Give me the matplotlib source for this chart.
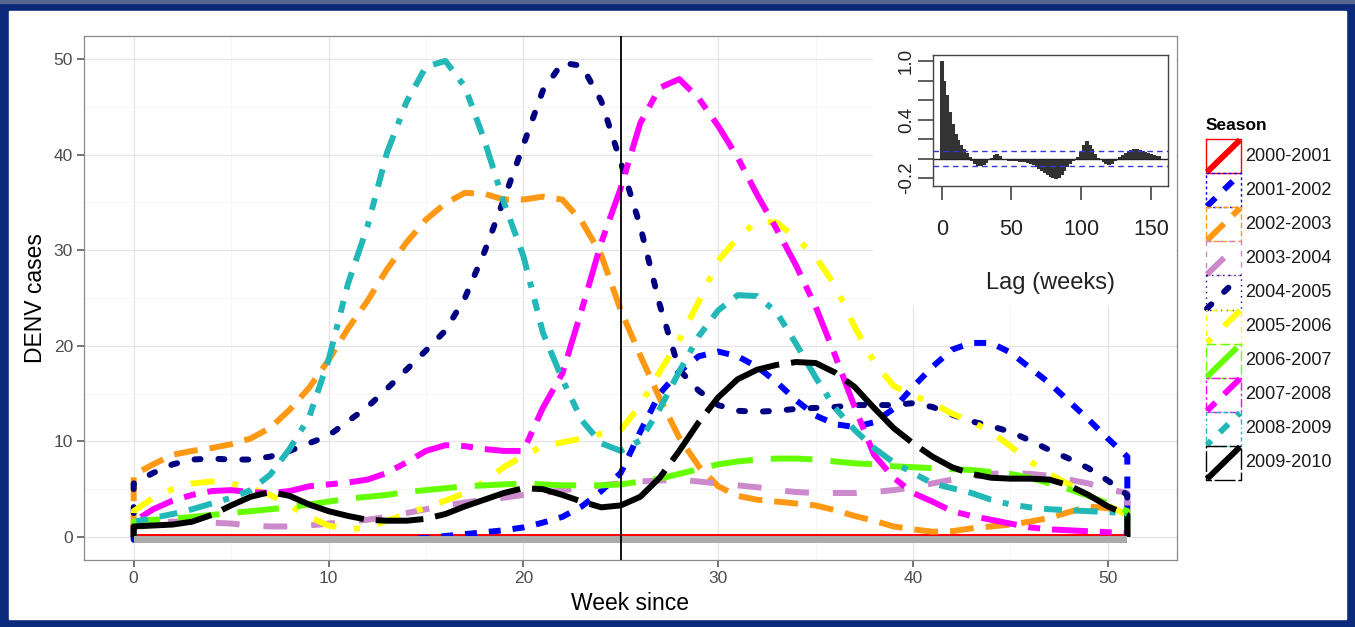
import matplotlib
matplotlib.use("Agg")
import matplotlib.pyplot as plt
from matplotlib.patches import Rectangle

plt.rcParams["font.family"] = ["Liberation Sans", "DejaVu Sans"]

W, H = 1355, 627

weeks = list(range(52))
seasons = ["2000-2001", "2001-2002", "2002-2003", "2003-2004", "2004-2005",
           "2005-2006", "2006-2007", "2007-2008", "2008-2009", "2009-2010"]

s2000 = [0.0, 0.0, 0.0, 0.0, 0.0, 0.0, 0.0, 0.0, 0.0, 0.0, 0.0, 0.0, 0.0,
         0.0, 0.0, 0.0, 0.0, 0.0, 0.0, 0.0, 0.0, 0.0, 0.0, 0.0, 0.0, 0.0,
         0.0, 0.0, 0.0, 0.0, 0.0, 0.0, 0.0, 0.0, 0.0, 0.0, 0.0, 0.0, 0.0,
         0.0, 0.0, 0.0, 0.0, 0.0, 0.0, 0.0, 0.0, 0.0, 0.0, 0.0, 0.0, 0.0]
s2001 = [-0.3, -0.3, -0.3, -0.3, -0.3, -0.3, -0.3, -0.3, -0.3, -0.3, -0.3, -0.3, -0.3,
         -0.3, -0.2, -0.1, 0.1, 0.3, 0.5, 0.7, 1.0, 1.5, 2.1, 3.2, 4.8, 6.7,
         11.0, 15.0, 17.3, 18.9, 19.4, 18.9, 17.8, 16.2, 14.3, 12.7, 11.8, 11.5, 12.0,
         13.4, 15.7, 17.8, 19.6, 20.3, 20.3, 19.3, 17.7, 16.1, 14.2, 12.3, 10.3, 8.4]
s2002 = [6.5, 7.6, 8.6, 9.0, 9.3, 9.7, 10.3, 11.4, 13.3, 15.6, 18.5, 21.8, 24.7,
         28.0, 30.8, 33.2, 34.9, 36.0, 35.9, 35.3, 35.3, 35.6, 35.3, 33.0, 29.5, 23.7,
         19.0, 14.5, 10.4, 7.4, 5.3, 4.3, 3.9, 3.7, 3.5, 3.3, 2.8, 2.2, 1.7,
         1.1, 0.8, 0.55, 0.6, 0.9, 1.1, 1.3, 1.6, 2.0, 2.6, 3.2, 3.0, 2.7]
s2003 = [1.4, 1.5, 1.6, 1.6, 1.5, 1.4, 1.2, 1.1, 1.1, 1.2, 1.4, 1.6, 1.8,
         2.1, 2.5, 2.9, 3.3, 3.6, 3.9, 4.1, 4.4, 4.6, 4.9, 5.1, 5.4, 5.6,
         5.8, 5.9, 6.0, 5.8, 5.6, 5.4, 5.2, 4.9, 4.7, 4.6, 4.6, 4.6, 4.7,
         4.9, 5.2, 5.6, 6.0, 6.3, 6.6, 6.7, 6.6, 6.4, 6.0, 5.6, 5.0, 4.6]
s2004 = [5.6, 6.7, 7.6, 8.1, 8.2, 8.1, 8.1, 8.4, 9.0, 9.8, 10.6, 12.1, 13.6,
         15.5, 17.5, 19.5, 21.6, 25.0, 29.8, 35.3, 41.0, 46.7, 49.6, 49.3, 45.6, 39.2,
         32.5, 24.3, 17.5, 15.3, 13.8, 13.2, 13.1, 13.2, 13.4, 13.5, 13.6, 13.8, 13.8,
         13.8, 14.0, 13.6, 12.8, 12.1, 11.6, 11.0, 10.1, 9.1, 8.2, 7.2, 5.9, 4.4]
s2005 = [2.7, 4.1, 5.0, 5.6, 5.8, 5.6, 5.1, 4.4, 3.3, 2.1, 1.2, 0.8, 1.0,
         1.7, 2.4, 3.1, 3.8, 4.6, 5.8, 7.3, 8.5, 9.5, 9.9, 10.3, 10.8, 11.2,
         13.8, 17.3, 20.6, 24.6, 28.9, 31.3, 33.0, 32.9, 31.3, 29.3, 26.3, 22.0, 18.3,
         15.8, 14.8, 14.0, 12.9, 12.1, 11.0, 9.5, 7.9, 6.6, 5.5, 4.4, 3.3, 2.3]
s2006 = [1.6, 1.8, 1.9, 2.1, 2.3, 2.5, 2.7, 2.9, 3.1, 3.4, 3.7, 4.0, 4.2,
         4.4, 4.7, 4.9, 5.1, 5.3, 5.4, 5.5, 5.6, 5.5, 5.4, 5.4, 5.4, 5.5,
         5.8, 6.1, 6.6, 7.1, 7.6, 7.9, 8.1, 8.2, 8.2, 8.1, 7.9, 7.7, 7.6,
         7.4, 7.3, 7.2, 7.1, 7.0, 6.8, 6.6, 6.2, 5.6, 5.0, 4.3, 3.5, 2.7]
s2007 = [1.6, 2.9, 3.8, 4.4, 4.8, 4.9, 4.7, 4.6, 4.8, 5.3, 5.5, 5.7, 6.0,
         6.7, 7.8, 9.0, 9.6, 9.5, 9.2, 9.0, 9.0, 13.5, 17.1, 23.8, 30.8, 36.5,
         43.3, 47.0, 47.9, 45.9, 43.0, 39.7, 35.8, 32.2, 28.4, 24.1, 19.0, 13.6, 8.6,
         6.2, 4.6, 3.7, 2.7, 2.2, 1.8, 1.4, 1.0, 0.8, 0.7, 0.6, 0.5, 0.4]
s2008 = [1.6, 2.0, 2.4, 2.9, 3.5, 4.1, 4.9, 6.5, 9.2, 12.5, 18.5, 26.5, 32.5,
         40.2, 45.5, 49.2, 49.8, 47.1, 41.5, 35.0, 29.4, 21.4, 16.5, 12.2, 9.8, 9.0,
         10.1, 13.4, 17.3, 21.0, 23.7, 25.3, 25.2, 23.5, 20.2, 16.7, 13.5, 11.2, 9.3,
         7.8, 6.7, 5.6, 5.1, 4.6, 3.9, 3.4, 3.1, 2.9, 2.8, 2.7, 2.6, 2.5]
s2009 = [1.1, 1.2, 1.3, 1.6, 2.3, 3.3, 4.2, 4.7, 4.3, 3.4, 2.7, 2.2, 1.8,
         1.7, 1.7, 1.9, 2.4, 3.2, 3.9, 4.6, 5.1, 5.0, 4.4, 3.7, 3.1, 3.3,
         4.2, 6.2, 9.0, 12.0, 14.6, 16.5, 17.5, 18.0, 18.3, 18.2, 17.2, 15.7, 13.5,
         11.4, 9.8, 8.4, 7.3, 6.6, 6.2, 6.1, 6.1, 6.0, 5.4, 4.4, 3.2, 2.3]
series = [s2000, s2001, s2002, s2003, s2004, s2005, s2006, s2007, s2008, s2009]

colors = ["#FF0000", "#0000FF", "#FF9914", "#CC8ACC", "#000080",
          "#FFFF00", "#66FF00", "#FF00FF", "#22B8B8", "#000000"]
# ggplot default linetype sequence
dashes = [None, (2, 2), (4, 2), (4, 4), (1, 3), (1, 3, 4, 3), (7, 3),
          (2, 2, 6, 2), (1, 2, 2, 2, 3, 2, 4, 2), (15, 2, 8, 2)]
caps = ["butt", "butt", "butt", "butt", "round", "butt", "butt", "butt", "butt", "butt"]

acf_lags = list(range(0, 157, 2))
acf_vals = [1.00, 0.80, 0.65, 0.48, 0.35, 0.25, 0.19, 0.14, 0.10, 0.06,
            0.02, -0.03, -0.06, -0.08, -0.08, -0.07, -0.05, -0.02, 0.01, 0.04,
            0.05, 0.03, 0.00, -0.02, -0.03, -0.03, -0.03, -0.03, -0.04, -0.04,
            -0.04, -0.05, -0.06, -0.07, -0.09, -0.11, -0.13, -0.15, -0.17, -0.19,
            -0.20, -0.21, -0.20, -0.17, -0.13, -0.09, -0.06, -0.03, -0.01, 0.02,
            0.07, 0.14, 0.18, 0.14, 0.10, 0.05, 0.01, -0.02, -0.04, -0.06,
            -0.07, -0.06, -0.03, 0.00, 0.02, 0.04, 0.06, 0.08, 0.09, 0.10,
            0.10, 0.09, 0.08, 0.07, 0.06, 0.05, 0.04, 0.03, 0.03]
acf_ci = 0.08


def fx(x):
    return x / W


def fy(y):
    return 1 - y / H


fig = plt.figure(figsize=(W / 100, H / 100), dpi=100)

# slide background and legend live in pixel coordinates
bg = fig.add_axes([0, 0, 1, 1], zorder=-1)
bg.set_xlim(0, W)
bg.set_ylim(H, 0)
bg.axis("off")
bg.add_patch(Rectangle((0, 0), W, H, color="#0c2a7c"))
bg.add_patch(Rectangle((0, 0), W, 3, color="#56668f"))
bg.add_patch(Rectangle((9, 11), 1337, 608, color="white"))

ax = fig.add_axes([fx(84), fy(560), (1177 - 84) / W, (560 - 36) / H], zorder=1)
ax.set_xlim(-2.55, 53.55)
ax.set_ylim(-2.41, 52.41)
ax.set_xticks([0, 10, 20, 30, 40, 50])
ax.set_xticks([5, 15, 25, 35, 45], minor=True)
ax.set_yticks([0, 10, 20, 30, 40, 50])
ax.set_yticks([5, 15, 25, 35, 45], minor=True)
ax.grid(which="major", color="#E5E5E5", lw=0.9)
ax.grid(which="minor", color="#F4F4F4", lw=0.6)
ax.set_axisbelow(True)
ax.tick_params(which="major", length=5, width=1.1, color="#4D4D4D",
               labelsize=12.5, labelcolor="#4D4D4D", pad=3)
ax.tick_params(which="minor", length=0)
for sp in ax.spines.values():
    sp.set_color("#8A8A8A")
    sp.set_linewidth(0.9)

for name, vals, col, dsh, cap in zip(seasons, series, colors, dashes, caps):
    xs = [weeks[0]] + weeks + [weeks[-1]]
    ys = [0.0] + vals + [0.0]
    line, = ax.plot(xs, ys, color=col, lw=4.3, solid_capstyle="butt",
                    dash_capstyle=cap, solid_joinstyle="round",
                    dash_joinstyle="round", zorder=2)
    if dsh is not None:
        line.set_dashes(dsh)

ax.fill_between(weeks, -0.65, 0.05, color="#ABABAB", lw=0, zorder=3)
ax.axvline(25, color="black", lw=1.3, zorder=4)

fig.text(fx(35), fy(298), "DENV cases", rotation=90, ha="center", va="center",
         fontsize=16.5)
fig.text(fx(630), fy(604), "Week since", ha="center", va="center", fontsize=16.5)

# white box behind the inset
fig.add_artist(Rectangle((fx(873), fy(305)), (1175 - 873) / W, (305 - 38) / H,
                         transform=fig.transFigure, color="white", zorder=2))

ins = fig.add_axes([fx(933), fy(186), 235 / W, 131 / H], zorder=3)
ins.vlines(acf_lags, 0, acf_vals, color="#333333", lw=2.9)
ins.axhline(0, color="#222222", lw=1.0)
ins.axhline(acf_ci, color="#3535E0", lw=1.0, ls=(0, (4, 3)))
ins.axhline(-acf_ci, color="#3535E0", lw=1.0, ls=(0, (4, 3)))
ins.set_xlim(-6.24, 162.24)
ins.set_ylim(-0.282, 1.062)
ins.set_xticks([0, 50, 100, 150])
ins.set_yticks([-0.2, 0.0, 0.2, 0.4, 0.6, 0.8, 1.0])
ins.set_yticklabels(["-0.2", "", "", "0.4", "", "", "1.0"], rotation=90, va="center")
ins.tick_params(axis="x", length=10, width=1.1, color="#333333", labelsize=15.5,
                labelcolor="#222222", pad=14)
ins.tick_params(axis="y", length=11, width=1.1, color="#333333", labelsize=13.5,
                labelcolor="#222222", pad=2)
for sp in ins.spines.values():
    sp.set_color("#444444")
    sp.set_linewidth(1.0)
fig.text(fx(1050), fy(283), "Lag (weeks)", ha="center", va="center", fontsize=17,
         color="#222222")

# legend
bg.text(1206, 125, "Season", fontsize=12.5, fontweight="bold", ha="left", va="center")
key_top, key_h, key_w, key_left = 139, 34.1, 35, 1206
for i, (name, col, dsh, cap) in enumerate(zip(seasons, colors, dashes, caps)):
    top = key_top + i * key_h
    box, = bg.plot([key_left, key_left + key_w, key_left + key_w, key_left, key_left],
                   [top, top, top + key_h, top + key_h, top], color=col, lw=1.0)
    diag, = bg.plot([key_left + 1, key_left + key_w - 1], [top + key_h - 1, top + 1],
                    color=col, lw=4.3, solid_capstyle="butt", dash_capstyle=cap)
    if dsh is not None:
        box.set_dashes(dsh)
        diag.set_dashes(dsh)
    bg.text(key_left + key_w + 4, top + key_h / 2, name, fontsize=13,
            ha="left", va="center", color="#1A1A1A")

fig.savefig("out.png", dpi=100)
